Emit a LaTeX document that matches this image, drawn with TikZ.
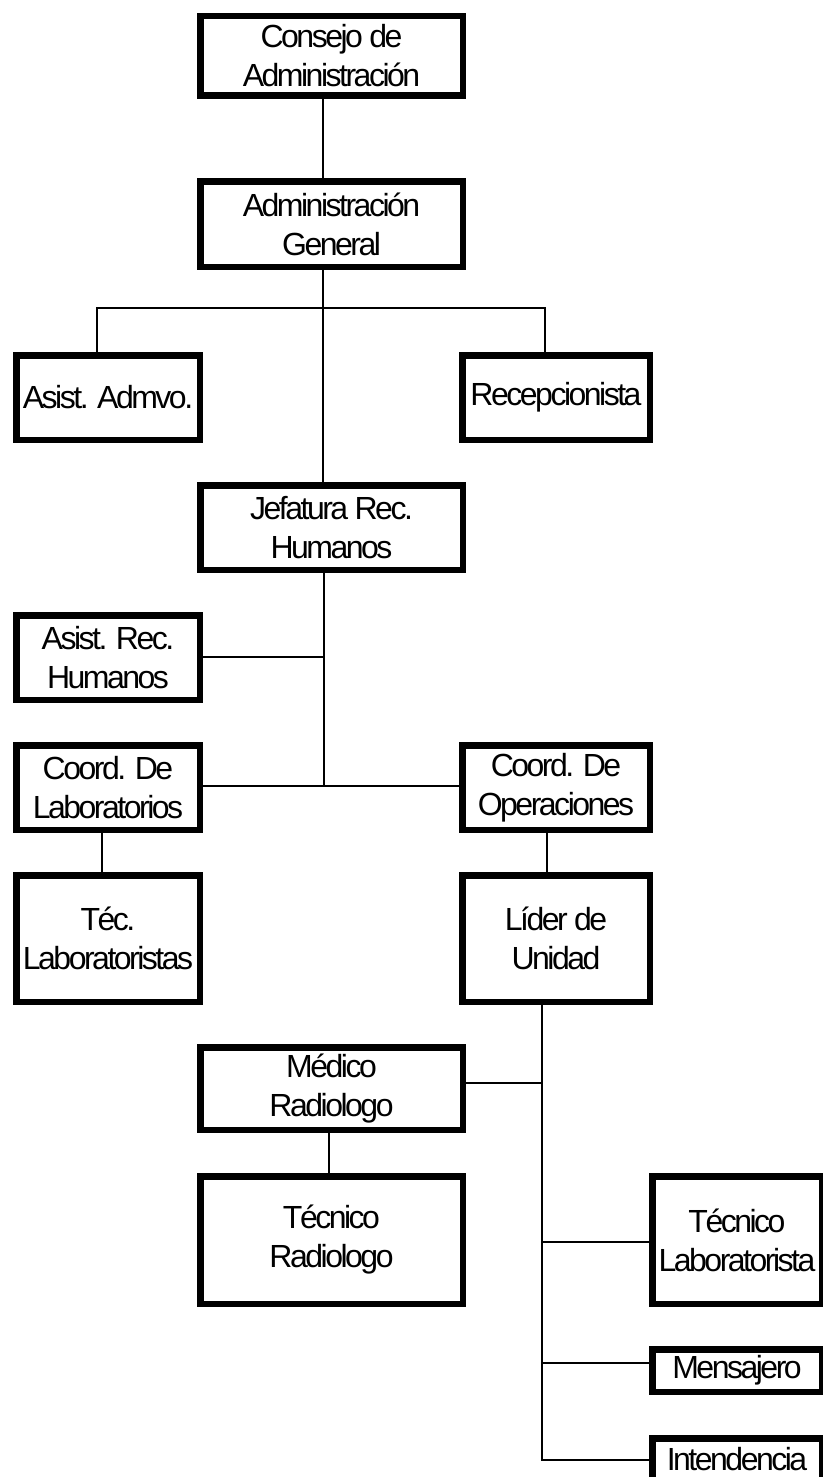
\documentclass[tikz,border=0pt]{standalone}
\usepackage{fontspec}
\setmainfont{Liberation Sans}[LetterSpace=-7.8]
\begin{document}
\begin{tikzpicture}[x=1pt,y=-1pt,
  box/.style={draw=black,line width=6.5pt,fill=white,align=center,inner sep=0pt,
    font=\fontsize{32}{39}\selectfont},
  conn/.style={draw=black,line width=1.8pt}]
\useasboundingbox (0,0) rectangle (822,1477);
% boxes: center, path width/height = outer - 6.5
\node[box,minimum width=262.5pt,minimum height=79.5pt] (consejo) at (331.5,56) {Consejo de\\Administración};
\node[box,minimum width=262.5pt,minimum height=85.5pt] (admin) at (331.5,224) {Administración\\General};
\node[box,minimum width=183.5pt,minimum height=84.5pt] (asistadm) at (108,397.5) {Asist. Admvo.};
\node[box,minimum width=187.5pt,minimum height=84.5pt] (recep) at (556,397.5) {Recepcionista};
\node[box,minimum width=262.5pt,minimum height=84.5pt] (jefatura) at (331.5,527.5) {Jefatura Rec.\\Humanos};
\node[box,minimum width=183.5pt,minimum height=84.5pt] (asistrh) at (108,657.5) {Asist. Rec.\\Humanos};
\node[box,minimum width=183.5pt,minimum height=84.5pt] (coordlab) at (108,787.5) {Coord. De\\Laboratorios};
\node[box,minimum width=187.5pt,minimum height=84.5pt] (coordop) at (556,787.5) {Coord. De\\Operaciones};
\node[box,minimum width=183.5pt,minimum height=126.5pt] (teclab) at (108,938.5) {Téc.\\Laboratoristas};
\node[box,minimum width=187.5pt,minimum height=126.5pt] (lider) at (556,938.5) {Líder de\\Unidad};
\node[box,minimum width=262.5pt,minimum height=82.5pt] (medico) at (331.5,1088.5) {Médico\\Radiologo};
\node[box,minimum width=262.5pt,minimum height=127.5pt] (tecrad) at (331.5,1240) {Técnico\\Radiologo};
\node[box,minimum width=169.5pt,minimum height=127.5pt] (teclabr) at (737,1240) {Técnico\\Laboratorista};
\node[box,minimum width=169.5pt,minimum height=42.5pt] (mensajero) at (737,1370.5) {Mensajero};
\node[box,minimum width=169.5pt,minimum height=42.5pt] (intend) at (737,1459.5) {Intendencia};
% connector junctions
\coordinate (ja) at (323,308);
\coordinate (jl) at (97,308);
\coordinate (jr) at (545,308);
\coordinate (jh) at (324,786);
\coordinate (jhr) at (324,657);
\coordinate (jlab) at (102,0);
\coordinate (jop) at (547,0);
\coordinate (jm) at (542,1083);
\coordinate (jt) at (542,1242);
\coordinate (jme) at (542,1363);
\coordinate (ji) at (542,1460);
\coordinate (jrad) at (329,0);
\begin{scope}[on background layer/.style={}]
\end{scope}
\draw[conn] (ja |- consejo.south) -- (ja |- admin.north);
\draw[conn] (ja |- admin.south) -- (ja |- jefatura.north);
\draw[conn] (jl |- asistadm.north) -- (jl) -- (jr) -- (jr |- recep.north);
\draw[conn] (jh |- jefatura.south) -- (jh);
\draw[conn] (asistrh.east |- jhr) -- (jhr);
\draw[conn] (coordlab.east |- jh) -- (coordop.west |- jh);
\draw[conn] (jlab |- coordlab.south) -- (jlab |- teclab.north);
\draw[conn] (jop |- coordop.south) -- (jop |- lider.north);
\draw[conn] (ji |- lider.south) -- (ji) -- (intend.west |- ji);
\draw[conn] (medico.east |- jm) -- (jm);
\draw[conn] (jrad |- medico.south) -- (jrad |- tecrad.north);
\draw[conn] (jt) -- (teclabr.west |- jt);
\draw[conn] (jme) -- (mensajero.west |- jme);
\end{tikzpicture}
\end{document}
